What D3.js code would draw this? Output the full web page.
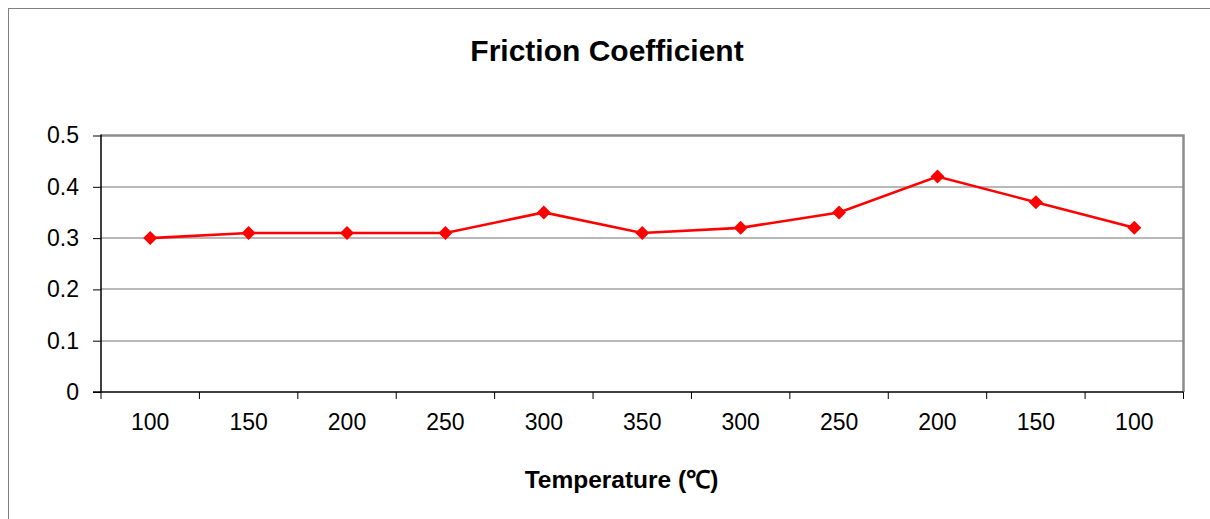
<!DOCTYPE html>
<html><head><meta charset="utf-8">
<script src="https://cdn.jsdelivr.net/npm/d3@7"></script>
<style>body{margin:0;background:#fff}svg{display:block;font-family:"Liberation Sans",Arial,sans-serif}</style>
</head><body><svg id="c" width="1210" height="519"></svg>
<script>
const categories = ["100","150","200","250","300","350","300","250","200","150","100"];
const values = [0.30,0.31,0.31,0.31,0.35,0.31,0.32,0.35,0.42,0.37,0.32];
const yTicks = [0,0.1,0.2,0.3,0.4,0.5];
const title = "Friction Coefficient";
const xTitle = "Temperature (℃)";

const svg = d3.select("#c");
const L=101, R=1183.5, T=135.5, B=392;
svg.append("rect").attr("x",8.5).attr("y",8.5).attr("width",1250).attr("height",600).attr("fill","#fff").attr("stroke","#808080").attr("stroke-width",1);

const idx = categories.map((d,i)=>i);
const x = d3.scaleBand().domain(idx).range([L,R]);
const y = d3.scaleLinear().domain([0,0.5]).range([B,T]);

// gridlines
svg.append("g").selectAll("line").data(yTicks.filter(v=>v>0 && v<0.5)).join("line")
  .attr("x1",L).attr("x2",R).attr("y1",d=>Math.round(y(d))).attr("y2",d=>Math.round(y(d)))
  .attr("stroke","#a0a0a0").attr("stroke-width",1.6);
// plot border
svg.append("path").attr("d",`M${L},${T}H${R}V${B}`).attr("fill","none").attr("stroke","#8c8c8c").attr("stroke-width",2.5);

// y axis
const ya = svg.append("g").attr("transform",`translate(${L},0)`)
  .call(d3.axisLeft(y).tickValues(yTicks).tickFormat(d=>d===0?"0":d3.format(".1f")(d)).tickSize(8).tickPadding(14));
ya.select(".domain").attr("stroke","#000").attr("stroke-width",1.5).attr("d",`M0,${T-1}V${B}`);
ya.selectAll(".tick line").attr("stroke","#000");
ya.selectAll("text").attr("font-size",23).attr("fill","#000").attr("font-family","Liberation Sans, Arial");

// x axis
const xg = svg.append("g").attr("transform",`translate(0,${B})`);
xg.append("line").attr("x1",L-8).attr("x2",R).attr("y1",0).attr("y2",0).attr("stroke","#000").attr("stroke-width",1.5);
const bounds = idx.map(i=>x(i)).concat([x(idx[idx.length-1])+x.bandwidth()]);
xg.selectAll("line.t").data(bounds).join("line").attr("class","t")
  .attr("x1",d=>d).attr("x2",d=>d).attr("y1",0).attr("y2",7).attr("stroke","#000");
xg.selectAll("text").data(idx).join("text")
  .attr("x",i=>x(i)+x.bandwidth()/2).attr("y",38).attr("text-anchor","middle")
  .attr("font-size",23).attr("fill","#000").text(i=>categories[i]);

// line
const cx = i=>x(i)+x.bandwidth()/2;
svg.append("path").datum(values).attr("fill","none").attr("stroke","#ff0000").attr("stroke-width",2.6)
  .attr("d",d3.line().x((d,i)=>cx(i)).y(d=>y(d)));
svg.append("g").selectAll("path").data(values).join("path")
  .attr("transform",(d,i)=>`translate(${cx(i)},${y(d)})`)
  .attr("d","M0,-7L7,0L0,7L-7,0Z").attr("fill","#ff0000");

svg.append("text").attr("x",607).attr("y",61).attr("text-anchor","middle")
  .attr("font-size",30).attr("font-weight","bold").text(title);
svg.append("text").attr("x",621.5).attr("y",488).attr("text-anchor","middle")
  .attr("font-size",24.5).attr("font-weight","bold").text(xTitle);
</script></body></html>
